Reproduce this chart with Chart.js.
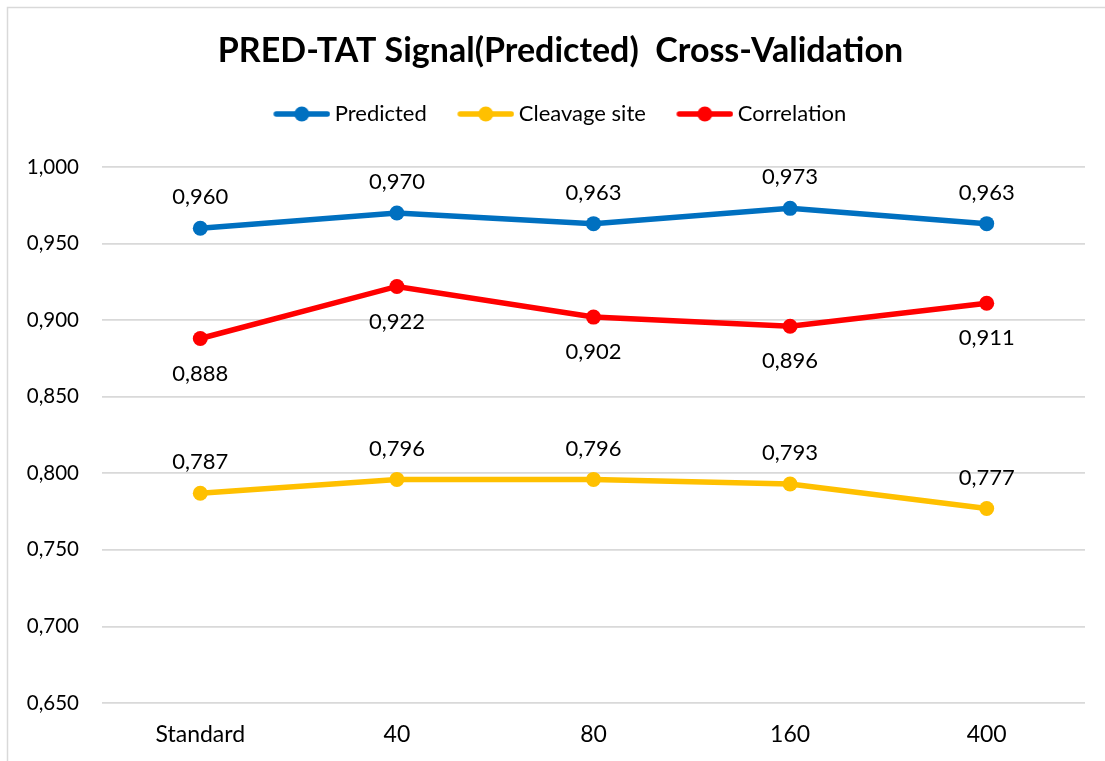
<!DOCTYPE html>
<html>
<head>
<meta charset="utf-8">
<script src="https://cdn.jsdelivr.net/npm/chart.js@4/dist/chart.umd.min.js"></script>
<style>
html,body{margin:0;padding:0;background:#fff;}
#wrap{position:relative;width:1105px;height:761px;}
</style>
</head>
<body>
<div id="wrap"><canvas id="c" width="1105" height="761"></canvas></div>
<script>
const categories = ['Standard', '40', '80', '160', '400'];
const predicted = [0.960, 0.970, 0.963, 0.973, 0.963];
const cleavage = [0.787, 0.796, 0.796, 0.793, 0.777];
const correlation = [0.888, 0.922, 0.902, 0.896, 0.911];
const seriesNames = ['Predicted', 'Cleavage site', 'Correlation'];
const seriesColors = ['#0070C0', '#FFC000', '#FF0000'];
const labelPlacement = ['above', 'above', 'below'];
const yMin = 0.65, yMax = 1.0, yStep = 0.05;

const FONT = 'Lato, "Open Sans", sans-serif';
const fmt = v => v.toFixed(3).replace('.', ',');

function legendIcon(color) {
  const c = document.createElement('canvas');
  c.width = 62; c.height = 16;
  const g = c.getContext('2d');
  g.strokeStyle = color; g.lineWidth = 5.5; g.lineCap = 'round';
  g.beginPath(); g.moveTo(8, 8); g.lineTo(59, 8); g.stroke();
  g.fillStyle = color;
  g.beginPath(); g.arc(33.5, 8, 7.5, 0, Math.PI * 2); g.fill();
  return c;
}

const dataLabelPlugin = {
  id: 'dataLabels',
  afterDatasetsDraw(chart) {
    const ctx = chart.ctx;
    ctx.save();
    ctx.font = '22px ' + FONT;
    ctx.fillStyle = '#000';
    ctx.textAlign = 'center';
    ctx.textBaseline = 'middle';
    chart.data.datasets.forEach((ds, i) => {
      const meta = chart.getDatasetMeta(i);
      meta.data.forEach((pt, j) => {
        const dy = labelPlacement[i] === 'above' ? -31 : 35;
        ctx.fillText(fmt(ds.data[j]), pt.x, pt.y + dy);
      });
    });
    ctx.restore();
  }
};

const borderPlugin = {
  id: 'frame',
  beforeDraw(chart) {
    const ctx = chart.ctx;
    ctx.save();
    ctx.strokeStyle = '#d9d9d9';
    ctx.lineWidth = 1.5;
    ctx.strokeRect(7.5, 7.5, 1300, 1300);
    ctx.restore();
  }
};

// Centre title and legend on the outer frame rather than on the plot area
const headerShiftPlugin = {
  id: 'headerShift',
  afterLayout(chart) {
    const shift = 18;
    [chart.titleBlock, chart.legend].forEach(b => {
      if (b) { b.left += shift; b.right += shift; }
    });
  }
};

const allSeries = [predicted, cleavage, correlation];
const datasets = allSeries.map((d, i) => ({
  label: seriesNames[i],
  data: d,
  borderColor: seriesColors[i],
  backgroundColor: seriesColors[i],
  borderWidth: 5.5,
  pointRadius: 7.5,
  pointHoverRadius: 7.5,
  pointBorderWidth: 0,
  pointBackgroundColor: seriesColors[i],
  tension: 0,
  fill: false
}));

new Chart(document.getElementById('c'), {
  type: 'line',
  data: { labels: categories, datasets },
  plugins: [borderPlugin, headerShiftPlugin, dataLabelPlugin],
  options: {
    responsive: false,
    animation: false,
    devicePixelRatio: 1,
    layout: { padding: { left: 0, right: 20, top: 0, bottom: 0 } },
    plugins: {
      title: {
        display: true,
        text: 'PRED-TAT Signal(Predicted)  Cross-Validation',
        color: '#000',
        font: { family: FONT, size: 34, weight: 'bold', lineHeight: 1 },
        padding: { top: 34, bottom: 3 }
      },
      subtitle: {
        display: true,
        text: '',
        weight: 500,
        font: { size: 1, lineHeight: 1 },
        padding: { top: 0, bottom: 31 }
      },
      legend: {
        display: true,
        labels: {
          color: '#000',
          font: { family: FONT, size: 22 },
          usePointStyle: true,
          pointStyleWidth: 49,
          padding: 32,
          generateLabels(chart) {
            return chart.data.datasets.map((ds, i) => ({
              text: ds.label,
              pointStyle: legendIcon(seriesColors[i]),
              fillStyle: seriesColors[i],
              strokeStyle: seriesColors[i],
              lineWidth: 0,
              datasetIndex: i,
              hidden: false,
              fontColor: '#000'
            }));
          }
        }
      },
      tooltip: { enabled: false }
    },
    scales: {
      x: {
        offset: true,
        grid: { display: false, drawTicks: false },
        border: { display: false },
        afterFit(scale) { scale.height = 58; },
        ticks: { color: '#000', font: { family: FONT, size: 23 }, padding: 18 }
      },
      y: {
        min: yMin,
        max: yMax,
        grid: { color: '#d9d9d9', lineWidth: 1.8, drawTicks: false },
        border: { display: false },
        afterFit(scale) { scale.width = 102; scale.paddingTop = 167; },
        ticks: {
          stepSize: yStep,
          color: '#000',
          font: { family: FONT, size: 20.5 },
          padding: 23,
          callback: v => fmt(v)
        }
      }
    }
  }
});
</script>
</body>
</html>
